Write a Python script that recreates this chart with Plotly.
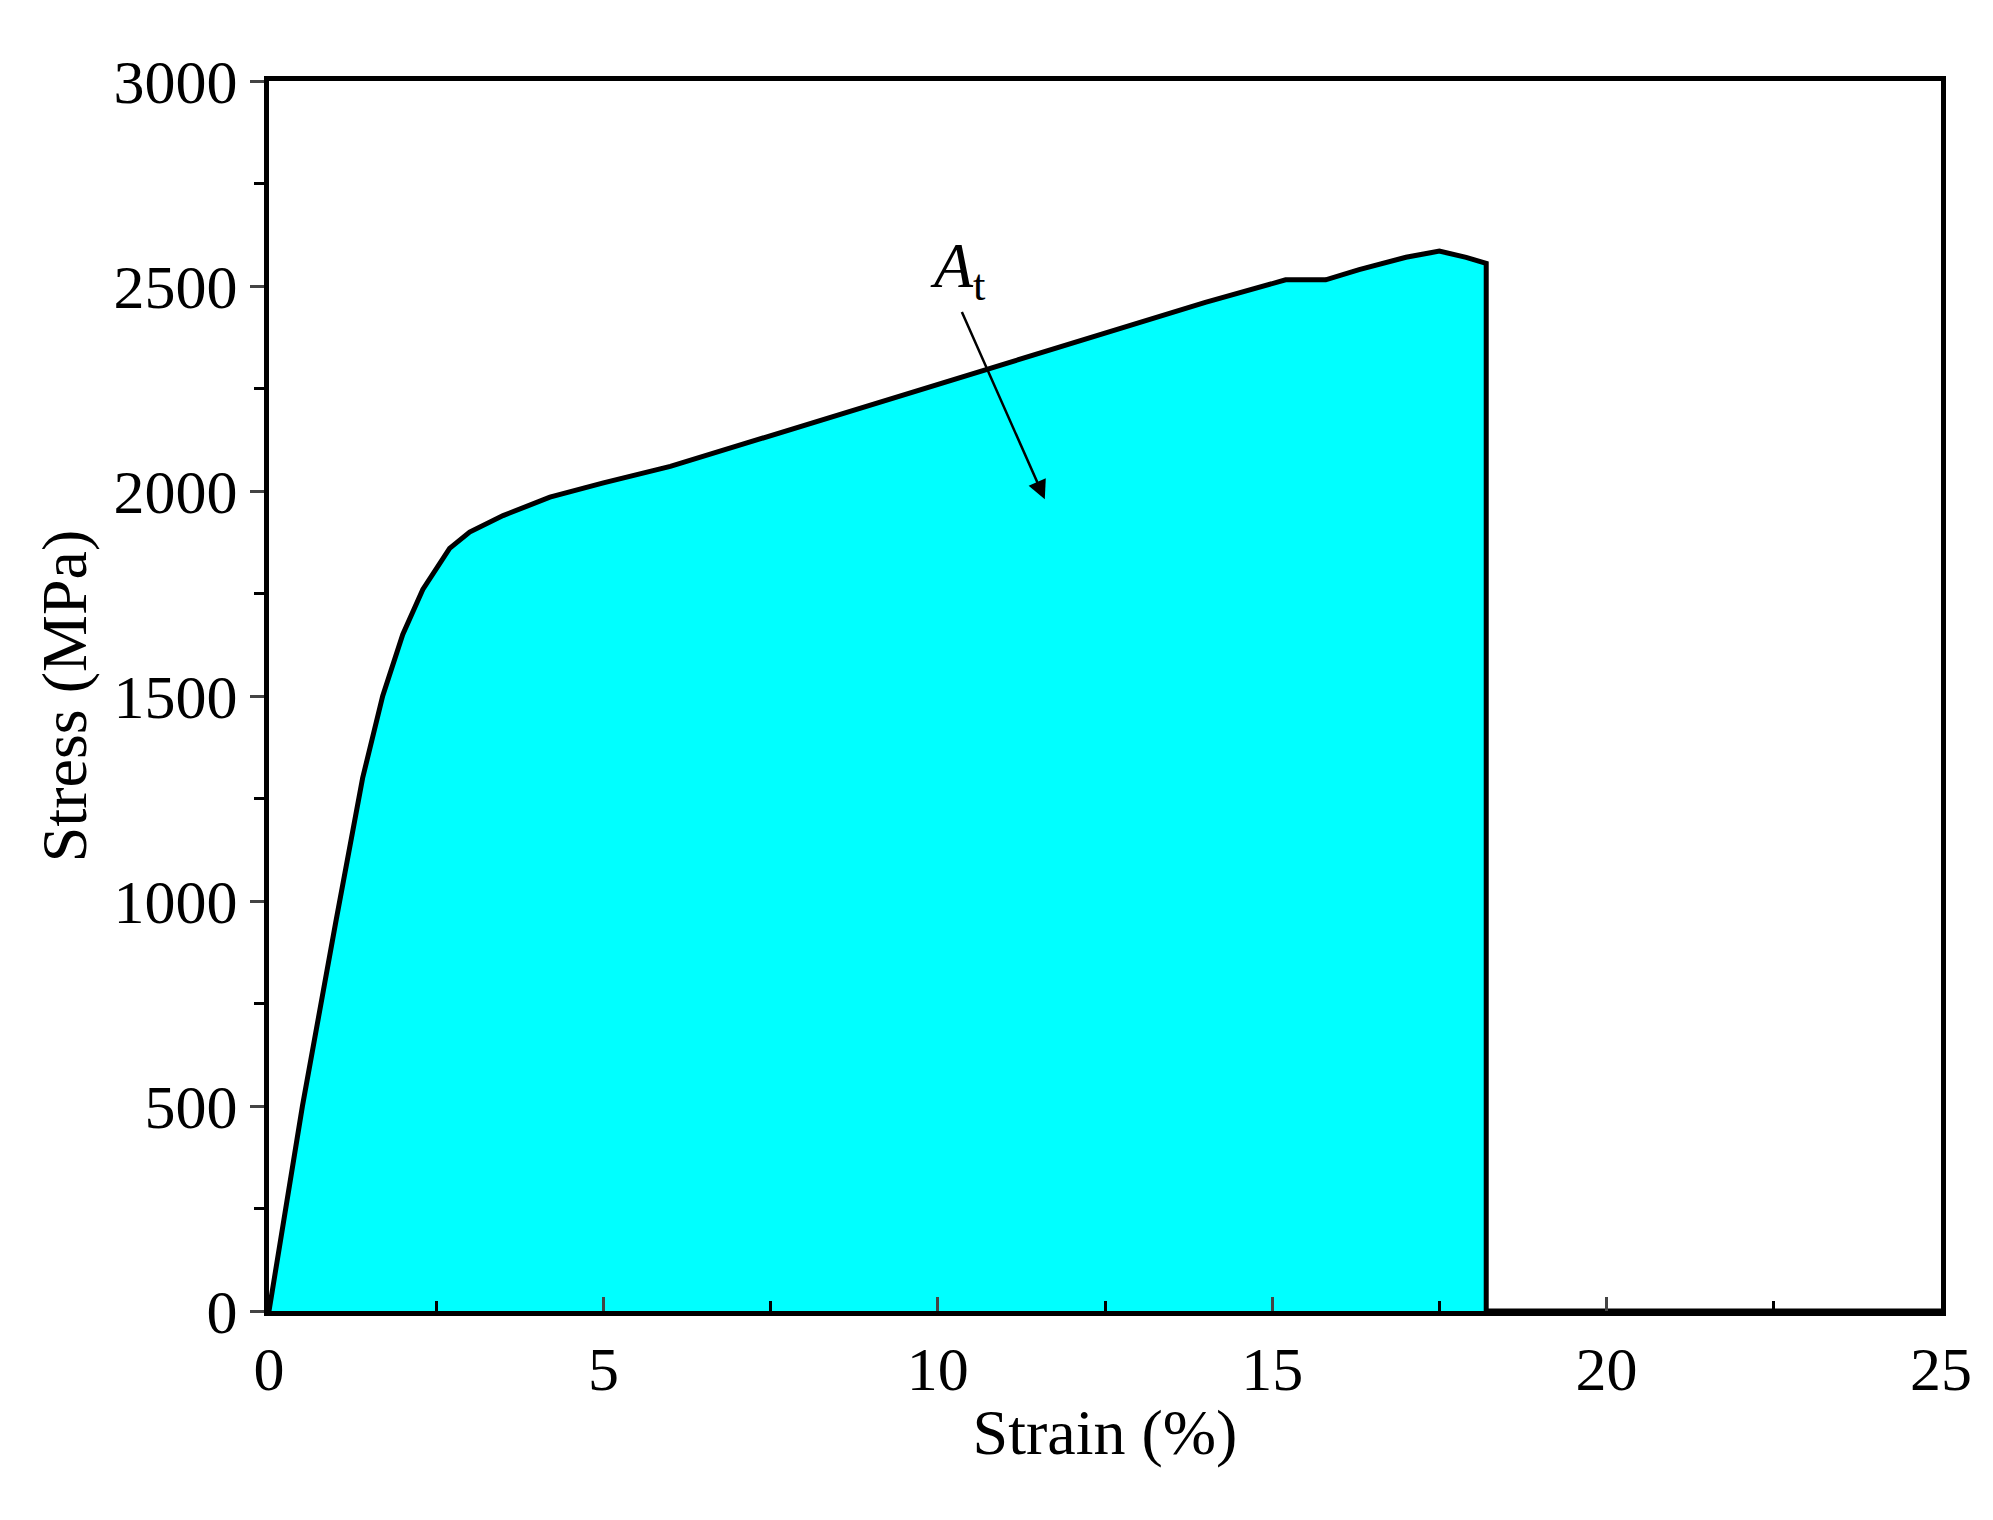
import plotly.graph_objects as go

strain = [0, 0.5, 1.0, 1.4, 1.7, 2.0, 2.3, 2.7, 3.0, 3.5, 4.2, 5, 6, 7, 8, 9, 10, 11, 12, 13, 14, 15.2, 15.8, 16.3, 17.0, 17.5, 17.9, 18.2, 18.2]
stress = [0, 500, 950, 1300, 1500, 1650, 1760, 1860, 1900, 1940, 1985, 2020, 2060, 2110, 2160, 2210, 2260, 2310, 2360, 2410, 2460, 2515, 2515, 2540, 2570, 2585, 2570, 2555, 0]
x_ticks = [0, 5, 10, 15, 20, 25]
y_ticks = [0, 500, 1000, 1500, 2000, 2500, 3000]

fig = go.Figure()
fig.add_trace(go.Scatter(x=strain, y=stress, mode="lines", fill="tozeroy",
                         fillcolor="#00FFFF", line=dict(color="black", width=5), showlegend=False))
fig.add_trace(go.Scatter(x=[18.2, 25], y=[0, 0], mode="lines",
                         line=dict(color="black", width=5), showlegend=False))
fig.add_annotation(x=11.6, y=1980, ax=10.35, ay=2440, xref="x", yref="y", axref="x", ayref="y",
                   text="", showarrow=True, arrowhead=2, arrowsize=1.5, arrowwidth=2.5, arrowcolor="black")
fig.add_annotation(x=10.3, y=2540, xref="x", yref="y", showarrow=False,
                   text="<i>A</i><sub>t</sub>", font=dict(family="Liberation Serif", size=64, color="black"))

font = dict(family="Liberation Serif", size=62, color="black")
fig.update_layout(
    width=1993, height=1520, plot_bgcolor="white", paper_bgcolor="white",
    margin=dict(l=261, r=60, t=73, b=217), font=font,
)
fig.update_xaxes(range=[0, 25], tickvals=x_ticks, showline=True, linecolor="black", linewidth=5,
                 mirror=True, ticks="inside", ticklen=14, tickwidth=3, showgrid=False, zeroline=False,
                 minor=dict(dtick=2.5, ticks="inside", ticklen=10, tickwidth=3, tickcolor="black"),
                 title=dict(text="Strain (%)", font=dict(family="Liberation Serif", size=64), standoff=8))
fig.update_yaxes(range=[0, 3000], tickvals=y_ticks, showline=True, linecolor="black", linewidth=5,
                 mirror=True, ticks="outside", ticklen=14, tickwidth=3, showgrid=False, zeroline=False,
                 minor=dict(dtick=250, ticks="outside", ticklen=10, tickwidth=3, tickcolor="black"),
                 title=dict(text="Stress (MPa)", font=dict(family="Liberation Serif", size=64), standoff=8))
fig.write_html("out.html")
